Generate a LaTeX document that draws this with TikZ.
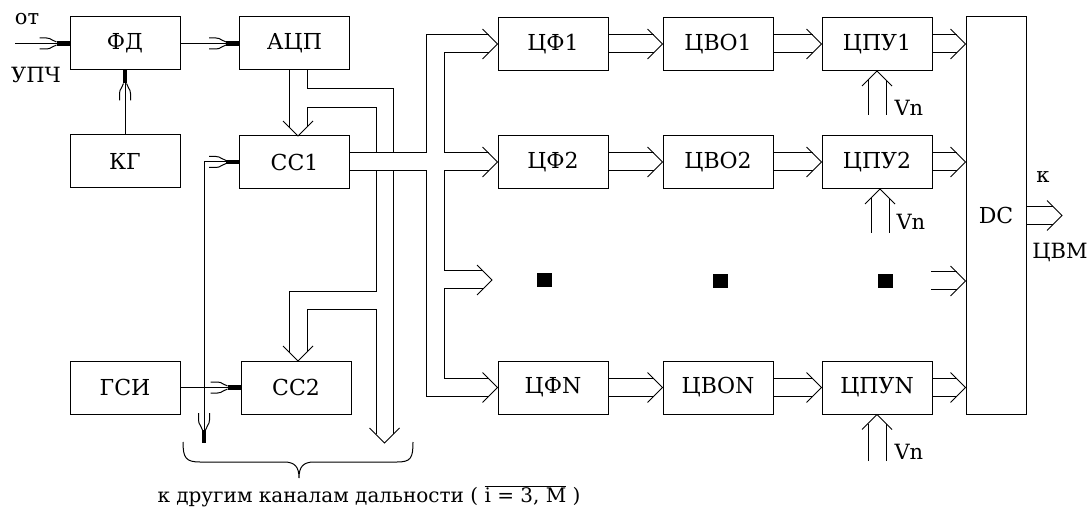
\documentclass[tikz,border=0pt]{standalone}
\usepackage{fontspec}
\setmainfont{DejaVu Serif}
\usetikzlibrary{calc}
\newcommand{\stip}[2]{\begin{scope}[shift={#1},rotate=#2]
 \fill (-13,-2.2) rectangle (0,2.2);
 \draw (-30,-5.5) -- (-23,-5.5) .. controls (-18,-5.5) and (-17,-2) .. (-13,-1.5);
 \draw (-30,5.5) -- (-23,5.5) .. controls (-18,5.5) and (-17,2) .. (-13,1.5);
 \end{scope}}
\newcommand{\chev}[2]{\draw[shift={#1},rotate=#2] (-15,-15) -- (0,0) -- (-15,15);}
\newcommand{\hbus}[2]{%
 \draw ($#1+(0,-9)$) -- ($#2+(-9,-9)$);
 \draw ($#1+(0,9)$) -- ($#2+(-9,9)$);
 \chev{#2}{0}}
\newcommand{\vbusup}[2]{%
 \draw ($#1+(-9,0)$) -- ($#2+(-9,9)$);
 \draw ($#1+(9,0)$) -- ($#2+(9,9)$);
 \chev{#2}{90}}
\tikzset{
 box/.style={draw, minimum width=110pt, minimum height=53pt, inner sep=0pt, font=\fontsize{22}{24}\selectfont},
 lbl/.style={inner sep=0pt, font=\fontsize{21}{23}\selectfont},
 dot/.style={fill, minimum width=15pt, minimum height=14pt, inner sep=0pt}
}
\begin{document}
\begin{tikzpicture}[x=1pt,y=-1pt,line width=1pt]
\fill[white] (0,0) rectangle (1089,510);
\useasboundingbox (0,0) rectangle (1089,510);
% blocks
\node[box] (fd) at (125,43.5) {ФД};
\node[box] (adc) at (294.5,43.5) {АЦП};
\node[box] (kg) at (125,161.5) {КГ};
\node[box] (cc1) at (294.5,162) {СС1};
\node[box] (gsi) at (125,387.5) {ГСИ};
\node[box] (cc2) at (296,387.5) {СС2};
\node[box] (cf1) at (553,44) {ЦФ1};
\node[box] (cf2) at (553,162) {ЦФ2};
\node[box] (cfn) at (553,387.5) {ЦФN};
\node[box] (cvo1) at (718,44) {ЦВО1};
\node[box] (cvo2) at (718,162) {ЦВО2};
\node[box] (cvon) at (718,387.5) {ЦВОN};
\node[box] (cpu1) at (877,44) {ЦПУ1};
\node[box] (cpu2) at (877,162) {ЦПУ2};
\node[box] (cpun) at (877,387.5) {ЦПУN};
\node[box, minimum width=60pt, minimum height=397pt] (dc) at (996,215.5) {DC};
% texts
\node[lbl] (ot) at (27,19) {от};
\node[lbl] (upch) at (36,75) {УПЧ};
\node[lbl] (k) at (1043,177) {к};
\node[lbl] (cvm) at (1060,252) {ЦВМ};
\node[lbl, anchor=west] (vn1t) at (894,108) {Vn};
\node[lbl, anchor=west] (vn2t) at (896,222) {Vn};
\node[lbl, anchor=west] (vnnt) at (894,452) {Vn};
\node[font=\fontsize{20}{22}\selectfont, inner sep=0pt] (note) at (369,496) {к другим каналам дальности ( $\overline{\hbox{i = 3, M}}$ )};
% dots
\node[dot] (d1) at (544,280) {};
\node[dot] (d2) at (720,281) {};
\node[dot] (d3) at (885,281) {};
% small arrows
\coordinate (in) at (15,43.5);
\draw (in) -- (fd.west); \stip{(fd.west)}{0}
\draw (fd.east) -- (adc.west); \stip{(adc.west)}{0}
\draw (kg.north) -- (fd.south); \stip{(fd.south)}{90}
\coordinate (sw) at (204,162);
\coordinate (sb) at (204,443);
\draw (sb) -- (sw) -- (cc1.west); \stip{(cc1.west)}{0} \stip{(sb)}{-90}
\draw (gsi.east) -- (cc2.west); \stip{(cc2.west)}{0}
% bus from ADC to CC1 and other channels
\coordinate (t1) at (298,136);
\coordinate (t2) at (298,361);
\coordinate (tb) at (384.5,443);
\draw (289,70) -- (289,127);
\draw (307,70) -- (307,89) -- (393,89) -- (393,153);
\draw (307,127) -- (307,108) -- (376,108) -- (376,153);
\chev{(t1)}{-90}
\draw (393,171) -- (393,434);
\draw (376,171) -- (376,292) -- (289,292) -- (289,352);
\draw (307,352) -- (307,310) -- (376,310) -- (376,434);
\chev{(t2)}{-90}
\chev{(tb)}{-90}
% CC1 output distribution bus
\coordinate (td) at (492,280);
\draw (cc1.east |- 0,153) -- (426,153) -- (426,35) -- ($(cf1.west)+(-9,-9)$);
\draw (cc1.east |- 0,171) -- (426,171) -- (426,396.5) -- ($(cfn.west)+(-9,9)$);
\draw ($(cf1.west)+(-9,9)$) -- (444,53) -- (444,153) -- ($(cf2.west)+(-9,-9)$);
\draw ($(cf2.west)+(-9,9)$) -- (444,171) -- (444,271) -- ($(td)+(-9,-9)$);
\draw ($(td)+(-9,9)$) -- (444,289) -- (444,378.5) -- ($(cfn.west)+(-9,-9)$);
\chev{(cf1.west)}{0}
\chev{(cf2.west)}{0}
\chev{(cfn.west)}{0}
\chev{(td)}{0}
% chains
\hbus{(cf1.east)}{(cvo1.west)}
\hbus{(cf2.east)}{(cvo2.west)}
\hbus{(cfn.east)}{(cvon.west)}
\hbus{(cvo1.east)}{(cpu1.west)}
\hbus{(cvo2.east)}{(cpu2.west)}
\hbus{(cvon.east)}{(cpun.west)}
\hbus{(cpu1.east)}{(dc.west |- cpu1.east)}
\hbus{(cpu2.east)}{(dc.west |- cpu2.east)}
\hbus{(cpun.east)}{(dc.west |- cpun.east)}
\coordinate (dd) at (931,281);
\hbus{(dd)}{(dc.west |- dd)}
\coordinate (out) at (1062,215.5);
\hbus{(dc.east |- out)}{(out)}
% Vn inputs
\coordinate (vn1) at (877,115);
\coordinate (vn2) at (880,233);
\coordinate (vnn) at (877,461);
\vbusup{(vn1)}{(cpu1.south)}
\vbusup{(vn2)}{($(cpu2.south)+(3,0)$)}
\vbusup{(vnn)}{(cpun.south)}
% brace
\draw (183,442) .. controls (183,458) and (186,462) .. (200,462) -- (284,462)
 .. controls (295,462) and (299,467) .. (299,478)
 .. controls (299,467) and (303,462) .. (314,462) -- (397,462)
 .. controls (411,462) and (413,458) .. (413,442);
\end{tikzpicture}
\end{document}
